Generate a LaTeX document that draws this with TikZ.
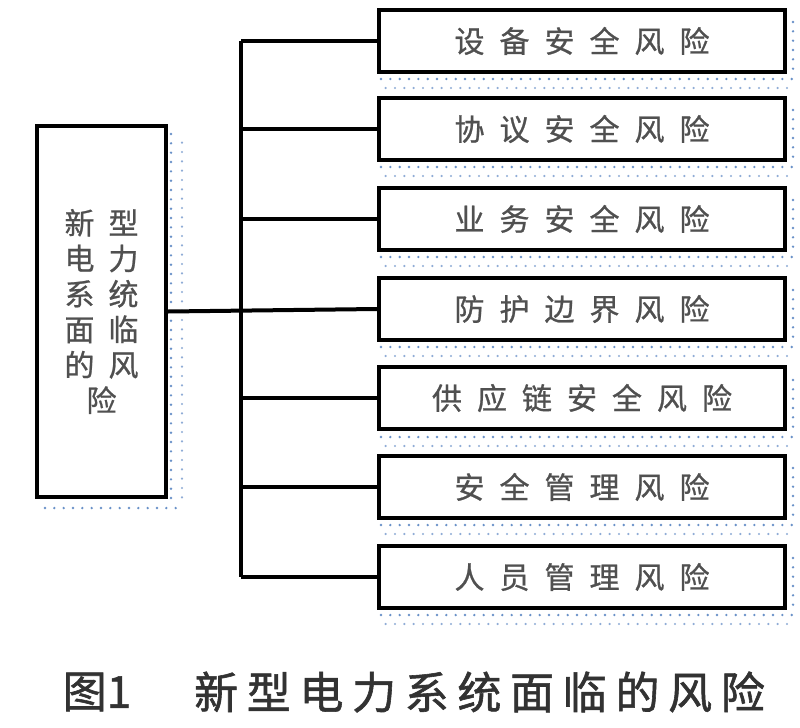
\documentclass[tikz,border=0pt]{standalone}
\usepackage{fontspec}
\newfontfamily\cjk[FakeBold=0.8]{Noto Sans CJK SC}
\newfontfamily\cjkcap[FakeBold=1.3]{Noto Sans CJK SC}
\newcommand\gp{\hspace{11.25pt}}
\newcommand\gl{\hspace{10.5pt}}
\newcommand\gc{\hspace{6.5pt}}
\definecolor{shadowblue}{RGB}{105,145,200}
\definecolor{boxtext}{RGB}{80,80,80}
\definecolor{captext}{RGB}{50,50,50}
\begin{document}
\begin{tikzpicture}[x=0.75pt,y=-0.75pt,
  riskbox/.style={draw=black,line width=3pt,fill=white,minimum width=304.5pt,minimum height=46.5pt,inner sep=0pt,font=\cjk\fontsize{22.5}{26}\selectfont,text=boxtext},
  mainbox/.style={draw=black,line width=3pt,fill=white,minimum width=96.75pt,minimum height=278.25pt,inner sep=0pt,font=\cjk\fontsize{22.5}{26.6}\selectfont,text=boxtext,align=center},
  link/.style={line width=3pt,black},
  dotrow/.style={shadowblue,line width=2pt,line cap=round,dash pattern=on 0pt off 7pt},
  dotrowb/.style={shadowblue!75,line width=1.8pt,line cap=round,dash pattern=on 0pt off 7pt,dash phase=3.5pt},
  captionstyle/.style={font=\cjkcap\fontsize{33}{36}\selectfont,text=captext,inner sep=0pt}
]
\useasboundingbox (0,0) rectangle (800,728);
\fill[white] (0,0) rectangle (800,728);

% dotted shadows of the right boxes
\foreach \t in {10,98,188,278,368,456,546}{
  \draw[dotrow] (381,\t+69) -- (793,\t+69);
  \draw[dotrowb] (381,\t+78) -- (793,\t+78);
  \draw[dotrow] (793,\t+12) -- (793,\t+66);
}
% dotted shadow of the main box
\draw[dotrow] (171,134) -- (171,500);
\draw[dotrowb] (182,138) -- (182,500);
\draw[dotrow] (45,508) -- (180,508);

% main box
\node[mainbox] (M) at (101.5,311.5) {新\gl 型\\电\gl 力\\系\gl 统\\面\gl 临\\的\gl 风\\险};

% risk boxes
\node[riskbox] (b1) at (582,41) {设\gp 备\gp 安\gp 全\gp 风\gp 险};
\node[riskbox] (b2) at (582,129) {协\gp 议\gp 安\gp 全\gp 风\gp 险};
\node[riskbox] (b3) at (582,219) {业\gp 务\gp 安\gp 全\gp 风\gp 险};
\node[riskbox] (b4) at (582,309) {防\gp 护\gp 边\gp 界\gp 风\gp 险};
\node[riskbox] (b5) at (582,398) {供\gp 应\gp 链\gp 安\gp 全\gp 风\gp 险};
\node[riskbox] (b6) at (582,487) {安\gp 全\gp 管\gp 理\gp 风\gp 险};
\node[riskbox] (b7) at (582,577) {人\gp 员\gp 管\gp 理\gp 风\gp 险};

% connectors
\coordinate (tTop) at (241,41);
\coordinate (tBot) at (241,577);
\draw[link] (tTop) -- (tBot);
\draw[link] (M.east) -- (b4.west);
\foreach \b in {b1,b2,b3,b5,b6,b7}{
  \draw[link] (\b.west) -- (tTop|-\b.west);
}

% caption
\node[captionstyle] (capnum) at (97,692) {图1};
\node[captionstyle] (captxt) at (479.5,692) {新\gc 型\gc 电\gc 力\gc 系\gc 统\gc 面\gc 临\gc 的\gc 风\gc 险};
\end{tikzpicture}
\end{document}
